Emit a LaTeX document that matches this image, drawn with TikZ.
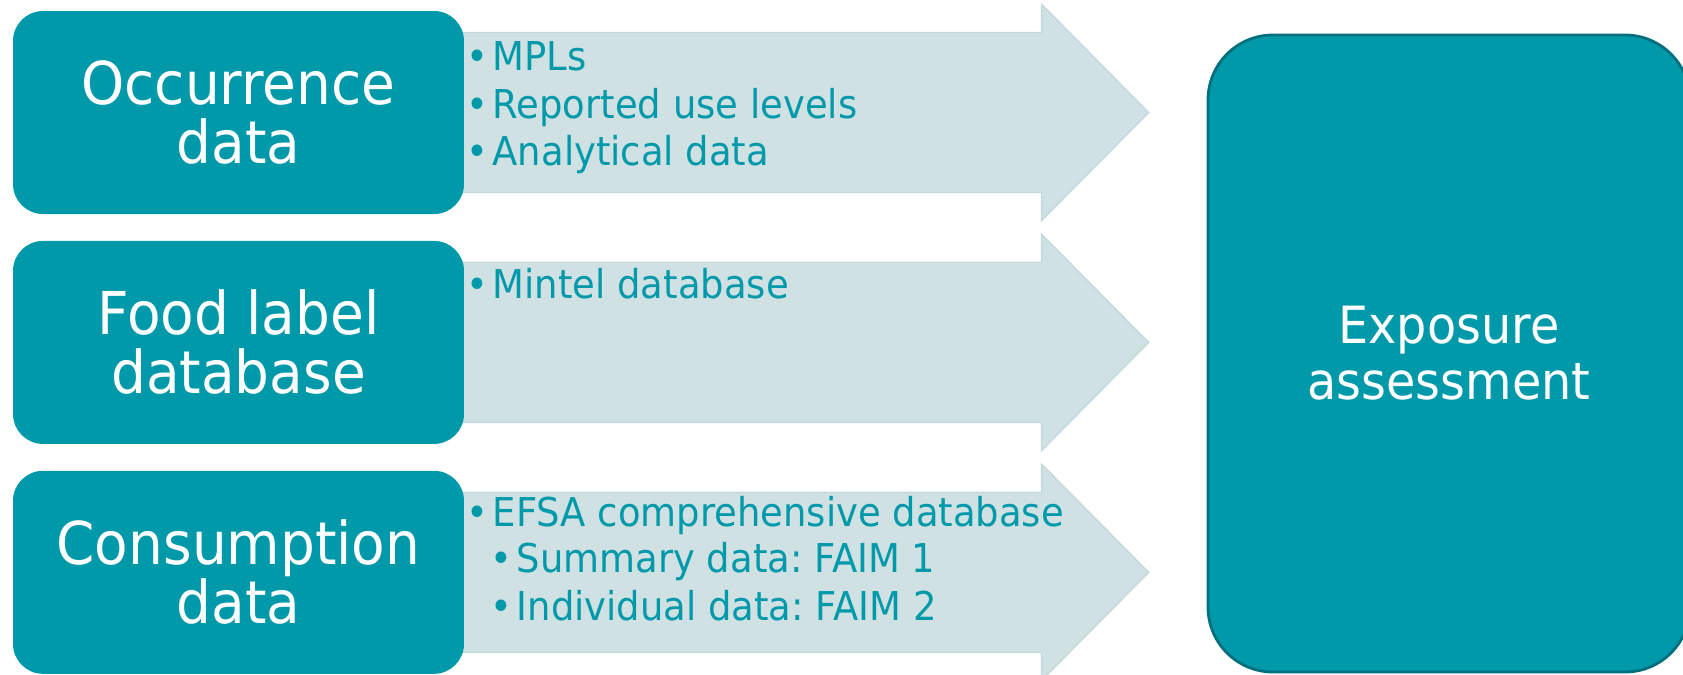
\documentclass[tikz,border=0pt]{standalone}
\usepackage{fontspec}
\setmainfont{DejaVu Sans}[FakeStretch=0.93]
\usetikzlibrary{positioning, backgrounds}
\frenchspacing

\definecolor{efsateal}{HTML}{0099AA}
\definecolor{efsadark}{HTML}{00707F}
\definecolor{efsapale}{HTML}{CFE1E3}
\definecolor{efsaedge}{HTML}{C3D9DC}

\tikzset{
    srcbox/.style = {fill = efsateal, text = white, rounded corners = 3mm,
        minimum width = 45.1mm, minimum height = 20.3mm, inner sep = 0pt,
        align = center, font = \fontsize{16.8}{16.8}\selectfont},
    flow/.style = {fill = efsapale, draw = efsaedge, line width = 0.4pt},
    item/.style = {anchor = base west, inner sep = 0pt, text = efsateal,
        font = \fontsize{11.3}{13}\selectfont},
}
\newcommand{\bul}{\makebox[7.4pt][l]{•}}

\begin{document}
\begin{tikzpicture}[x = 0.1mm, y = -0.1mm]
            % \draw[style = help lines] (0,0) grid (1683,674);
            \useasboundingbox (0,0) rectangle (1683,674);

            \node[srcbox] (occ) at (238.5, 112.5) {Occurrence\\data};
            \node[srcbox, below = 2.55mm of occ] (lab) {Food label\\database};
            \node[srcbox, below = 2.55mm of lab] (con) {Consumption\\data};

            \begin{scope}[on background layer]
                \foreach \b in {occ, lab, con}
                    \draw[flow] ([xshift = -5mm, yshift = 8mm]\b.east) -- ++(62.7mm,0)
                        -- ++(0,2.8mm) -- ++(10.7mm,-10.8mm) -- ++(-10.7mm,-10.8mm)
                        -- ++(0,2.8mm) -- ++(-62.7mm,0) -- cycle;
            \end{scope}

            \node[item] (mpl) at (466, 70) {\bul MPLs};
            \node[item] (use) at (466, 118) {\bul Reported use levels};
            \node[item] (ana) at (466, 165) {\bul Analytical data};

            \node[item] (min) at (466, 298) {\bul Mintel database};

            \node[item] (efs) at (466, 526) {\bul EFSA comprehensive database};
            \node[item] (sum) at (490, 572) {\bul Summary data: FAIM 1};
            \node[item] (ind) at (490, 620) {\bul Individual data: FAIM 2};

            \node[fill = efsateal, draw = efsadark, line width = 0.8pt, rounded corners = 6.5mm,
                minimum width = 48.2mm, minimum height = 63.7mm, text = white, align = center,
                font = \fontsize{14.6}{15.9}\selectfont] (exp) at (1449, 353.5) {Exposure\\assessment};
\end{tikzpicture}
\end{document}
